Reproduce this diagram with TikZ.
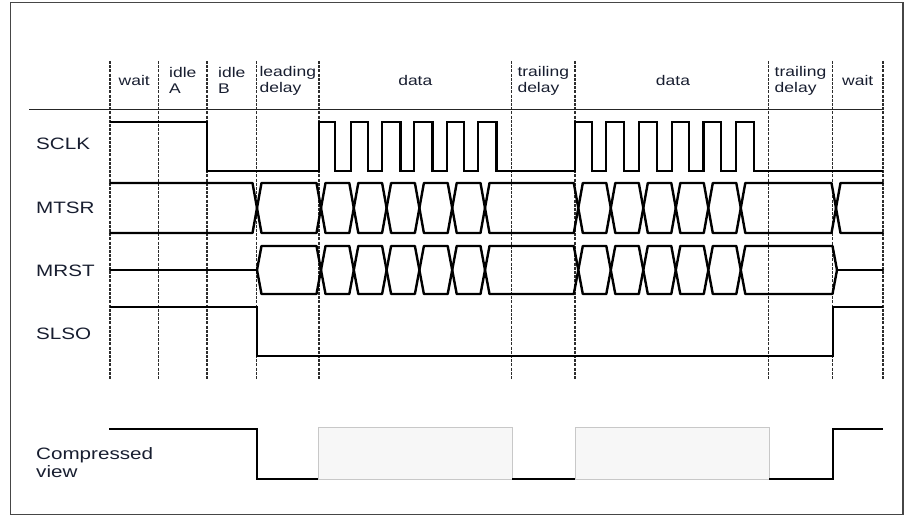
\documentclass[tikz,border=0pt]{standalone}
\usepackage{fontspec}
\setmainfont{Liberation Sans}[FakeStretch=1.25]
\definecolor{txt}{RGB}{24,30,48}
\definecolor{framec}{RGB}{70,70,70}
\definecolor{gridc}{RGB}{45,45,45}
\definecolor{boxfill}{RGB}{247,247,247}
\definecolor{boxline}{RGB}{200,200,200}
\begin{document}
\begin{tikzpicture}[x=1pt,y=-1pt,
  framebox/.style={draw=framec,line width=1.6pt},
  gridline/.style={draw=gridc,line width=1.7pt,dash pattern=on 3pt off 1.2pt},
  headline/.style={draw=black!85,line width=1pt},
  sig/.style={draw=black,line width=2.4pt,line join=miter,line cap=butt},
  bus/.style={draw=black,line width=2.4pt,line join=round,line cap=round},
  cbox/.style={draw=boxline,fill=boxfill,line width=1pt},
  hdr/.style={font=\fontsize{14}{16}\selectfont,align=left,inner sep=0pt,text=txt},
  lbl/.style={font=\fontsize{16.5}{18.3}\selectfont,align=left,anchor=west,inner sep=0pt,text=txt}]
\useasboundingbox (0,0) rectangle (906,516);
\draw[framebox] (10.5,2.5) rectangle (903,514.5);
% phase grid
\foreach \x in {110,158.5,207,256.5,319,511.5,575,768.5,832.5,883}
  \draw[gridline] (\x,61) -- (\x,379.5);
\draw[headline] (29,110) -- (883,110);
% header texts
\node[hdr] (h1) at (134.3,80.5) {wait};
\node[hdr] (h2) at (182.8,80.5) {idle\\A};
\node[hdr] (h3) at (231.8,80.5) {idle\\B};
\node[hdr] (h4) at (287.8,80.5) {leading\\delay};
\node[hdr] (h5) at (415.3,80.5) {data};
\node[hdr] (h6) at (543.3,80.5) {trailing\\delay};
\node[hdr] (h7) at (673,80.5) {data};
\node[hdr] (h8) at (800.5,80.5) {trailing\\delay};
\node[hdr] (h9) at (857.8,80.5) {wait};
% signal labels
\node[lbl] (sclk) at (36,143.5) {SCLK};
\node[lbl] (mtsr) at (36,207.5) {MTSR};
\node[lbl] (mrst) at (36,271) {MRST};
\node[lbl] (slso) at (36,334) {SLSO};
\node[lbl] (comp) at (36,462.3) {Compressed\\view};
% SCLK
\draw[sig] (110,122) -- (207,122) |- (319,171)
  |- (335,122) |- (350.7,171) |- (368,122) |- (381.7,171) |- (400.5,122)
  |- (414,171) |- (432.5,122) |- (447,171) |- (464,122) |- (478,171)
  |- (496.5,122) |- (575,171)
  |- (592,122) |- (605.7,171) |- (624,122) |- (639,171) |- (657,122)
  |- (671.7,171) |- (689,122) |- (703.5,171) |- (721,122) |- (736,171)
  |- (754,122) |- (883,171);
% MTSR
\draw[bus] (110,183) -- (252.5,183) -- (257,208) -- (252.5,233) -- (110,233);
\foreach \a/\b in {257/321,321/353.8,353.8/386.6,386.6/419.4,419.4/452.2,452.2/485,
  485/578.3,578.3/610.8,610.8/643.3,643.3/675.8,675.8/708.3,708.3/740.8,740.8/836}
  \draw[bus] (\a,208) -- (\a+4.5,183) -- (\b-4.5,183) -- (\b,208) -- (\b-4.5,233) -- (\a+4.5,233) -- cycle;
\draw[bus] (883,183) -- (840.5,183) -- (836,208) -- (840.5,233) -- (883,233);
% MRST
\draw[bus] (110,270) -- (257,270);
\foreach \a/\b in {257/321,321/353.8,353.8/386.6,386.6/419.4,419.4/452.2,452.2/485,
  485/578.3,578.3/610.8,610.8/643.3,643.3/675.8,675.8/708.3,708.3/740.8,740.8/837}
  \draw[bus] (\a,270) -- (\a+4.5,246) -- (\b-4.5,246) -- (\b,270) -- (\b-4.5,294) -- (\a+4.5,294) -- cycle;
\draw[bus] (837,270) -- (883,270);
% SLSO
\draw[sig] (110,307) -- (257,307) -- (257,356) -- (833,356) -- (833,307) -- (883,307);
% compressed view
\draw[cbox] (318,427) rectangle (512,479);
\draw[cbox] (575,427) rectangle (769,479);
\draw[sig] (109,429) -- (257,429) -- (257,479) -- (318,479);
\draw[sig] (512,479) -- (575,479);
\draw[sig] (769,479) -- (833,479) -- (833,429) -- (883,429);
\end{tikzpicture}
\end{document}
